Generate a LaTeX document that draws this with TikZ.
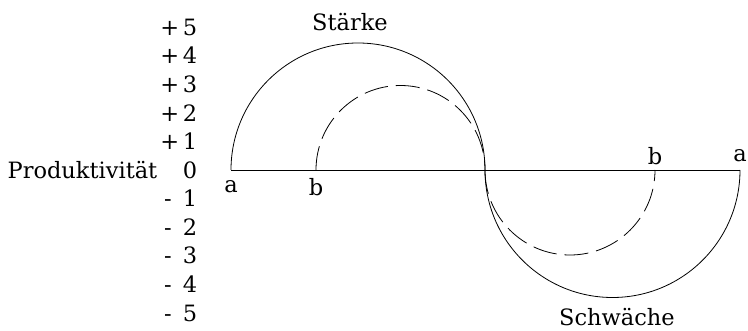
\documentclass[tikz,border=0pt]{standalone}
\usepackage{fontspec}
\setmainfont{DejaVu Serif}
\usepackage{tikz}

\begin{document}
\begin{tikzpicture}[x=1pt, y=1pt, line width=0.8pt, font=\fontsize{22.5}{26}\selectfont,
        strich/.style={dash pattern=on 24pt off 8pt}]
        \useasboundingbox (0,0) rectangle (748,330);
        \coordinate (aL) at (231,160);
        \coordinate (bL) at (316,160);
        \coordinate (m) at (485,160);
        \coordinate (bR) at (655,160);
        \coordinate (aR) at (740,160);
        \draw (aL) -- (aR);
        \draw (aL) arc[start angle=180, end angle=0, radius=127];
        \draw[strich] (bL) arc[start angle=180, end angle=0, radius=84.5];
        \draw (m) arc[start angle=180, end angle=360, radius=127.5];
        \draw[strich] (m) arc[start angle=180, end angle=360, radius=85];
        \node (la1) at (231,143) {a};
        \node (lb1) at (316,143) {b};
        \node (lb2) at (655,174) {b};
        \node (la2) at (740,174) {a};
        \node (staerke) at (350,308) {Stärke};
        \node[anchor=base, inner sep=0pt] (schwaeche) at (617,5) {Schwäche};
        \node[anchor=east] (prod) at (161,160) {Produktivität};
        \node[anchor=east] (s0) at (201,160) {0};
        \foreach \n in {1,...,5} {
            \node[anchor=east] (p\n) at (201,160+28.6*\n) {+\,\n};
            \node[anchor=east] (n\n) at (201,160-28.6*\n) {-\enspace\n};
        }
    \end{tikzpicture}
\end{document}
